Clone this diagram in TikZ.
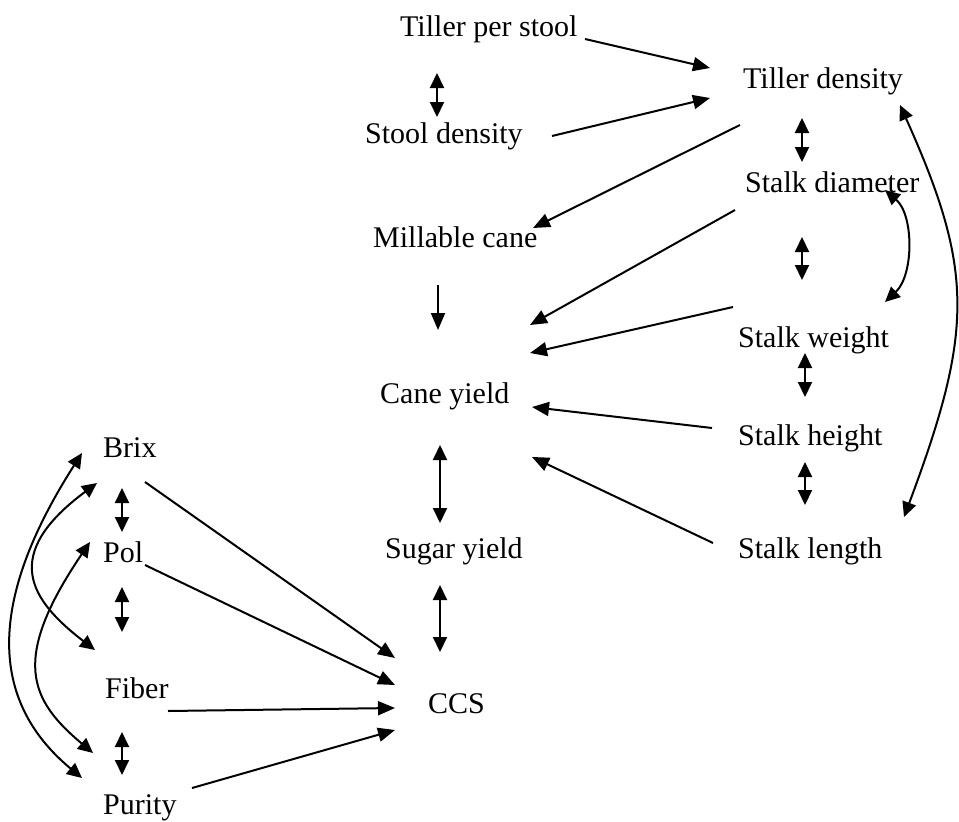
\documentclass[tikz,border=0pt]{standalone}
\usepackage{fontspec}
\setmainfont{Liberation Serif}
\usetikzlibrary{arrows.meta}
\begin{document}
\begin{tikzpicture}[x=1pt,y=-1pt,
  lbl/.style={anchor=base west,inner sep=0pt,font=\fontsize{30}{36}\selectfont},
  conn/.style={line width=2pt,-{Triangle[length=17pt,width=14pt]}},
  bi/.style={line width=2pt,{Triangle[length=15pt,width=14pt]}-{Triangle[length=15pt,width=14pt]}}]
\useasboundingbox (0,0) rectangle (959,822);
% nodes
\node[lbl] (tps)  at (400,36)  {Tiller per stool};
\node[lbl] (td)   at (743,88)  {Tiller density};
\node[lbl] (sd)   at (365,143) {Stool density};
\node[lbl] (sdia) at (745,192) {Stalk diameter};
\node[lbl] (mc)   at (373,247) {Millable cane};
\node[lbl] (sw)   at (738,347) {Stalk weight};
\node[lbl] (cy)   at (380,403) {Cane yield};
\node[lbl] (sh)   at (738,445) {Stalk height};
\node[lbl] (brix) at (103,457) {Brix};
\node[lbl] (pol)  at (103,562) {Pol};
\node[lbl] (sy)   at (385,558) {Sugar yield};
\node[lbl] (sl)   at (738,558) {Stalk length};
\node[lbl] (fib)  at (105,698) {Fiber};
\node[lbl] (ccs)  at (428,713) {CCS};
\node[lbl] (pur)  at (103,814) {Purity};
% top part
\draw[conn] ([shift={(185,3)}]tps.base west) -- ([shift={(-33,-20)}]td.base west);
\draw[conn] ([shift={(187,-7)}]sd.base west) -- ([shift={(-33,10)}]td.base west);
\draw[conn] ([shift={(-3,37)}]td.base west) -- ([shift={(160,-19)}]mc.base west);
\draw[bi] ([shift={(37,37)}]tps.base west) -- ([shift={(72,-26)}]sd.base west);
\draw[bi] ([shift={(59,30)}]td.base west) -- ([shift={(57,-30)}]sdia.base west);
% into cane yield
\draw[conn] ([shift={(-10,18)}]sdia.base west) -- ([shift={(150,-78)}]cy.base west);
\draw[conn] ([shift={(-5,-40)}]sw.base west) -- ([shift={(150,-50)}]cy.base west);
\draw[conn] ([shift={(-26,-17)}]sh.base west) -- ([shift={(152,4)}]cy.base west);
\draw[conn] ([shift={(-25,-15)}]sl.base west) -- ([shift={(152,54)}]cy.base west);
\draw[conn] ([shift={(65,38)}]mc.base west) -- ([shift={(58,-73)}]cy.base west);
\draw[bi] ([shift={(60,42)}]cy.base west) -- ([shift={(55,-35)}]sy.base west);
\draw[bi] ([shift={(55,27)}]sy.base west) -- ([shift={(12,-61)}]ccs.base west);
% right column
\draw[bi] ([shift={(57,45)}]sdia.base west) -- ([shift={(64,-67)}]sw.base west);
\draw[bi] ([shift={(67,6)}]sw.base west) -- ([shift={(67,-48)}]sh.base west);
\draw[bi] ([shift={(67,17)}]sh.base west) -- ([shift={(67,-53)}]sl.base west);
\draw[bi] ([shift={(140,-2)}]sdia.base west) .. controls (914,215) and (914,275) .. ([shift={(147,-45)}]sw.base west);
\draw[bi] ([shift={(157,17)}]td.base west) .. controls (974,270) and (974,330) .. ([shift={(166,-41)}]sl.base west);
% left part
\draw[conn] ([shift={(42,25)}]brix.base west) -- ([shift={(-33,-55)}]ccs.base west);
\draw[conn] ([shift={(42,3)}]pol.base west) -- ([shift={(-33,-28)}]ccs.base west);
\draw[conn] ([shift={(63,13)}]fib.base west) -- ([shift={(-33,-5)}]ccs.base west);
\draw[conn] ([shift={(89,-26)}]pur.base west) -- ([shift={(-33,17)}]ccs.base west);
\draw[bi] ([shift={(19,31)}]brix.base west) -- ([shift={(19,-30)}]pol.base west);
\draw[bi] ([shift={(19,25)}]pol.base west) -- ([shift={(17,-66)}]fib.base west);
\draw[bi] ([shift={(17,34)}]fib.base west) -- ([shift={(19,-39)}]pur.base west);
\draw[bi] ([shift={(-21,-4)}]brix.base west) .. controls (-12,600) and (-12,700) .. ([shift={(-21,-36)}]pur.base west);
\draw[bi] ([shift={(-6,26)}]brix.base west) .. controls (0,555) and (30,600) .. ([shift={(-10,-48)}]fib.base west);
\draw[bi] ([shift={(-13,-20)}]pol.base west) .. controls (10,660) and (30,700) .. ([shift={(-10,-61)}]pur.base west);
\end{tikzpicture}
\end{document}
